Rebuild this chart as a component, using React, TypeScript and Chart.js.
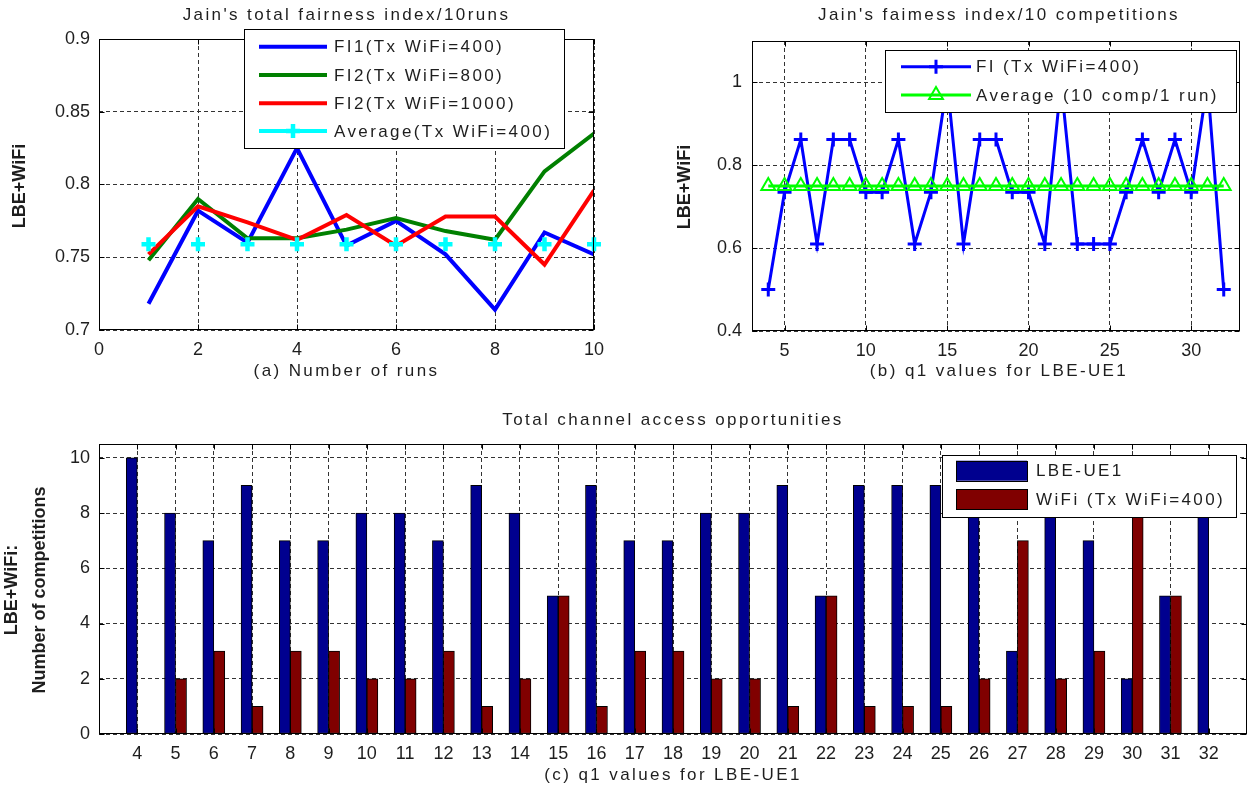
import React, { useEffect, useRef } from "react";
import { Chart, registerables } from "chart.js";

Chart.register(...registerables);

// ---------------- data ----------------
// (a) fairness index over 10 runs
const runs = [1, 2, 3, 4, 5, 6, 7, 8, 9, 10];
const fi1Tx400 = [0.718, 0.782, 0.76, 0.825, 0.758, 0.775, 0.752, 0.714, 0.767, 0.752];
const fi2Tx800 = [0.748, 0.79, 0.763, 0.763, 0.769, 0.777, 0.768, 0.762, 0.809, 0.835];
const fi2Tx1000 = [0.752, 0.785, 0.774, 0.762, 0.779, 0.758, 0.778, 0.778, 0.745, 0.796];
const avgRunsTx400 = [0.759, 0.759, 0.759, 0.759, 0.759, 0.759, 0.759, 0.759, 0.759, 0.759];
const runTicks = [0, 2, 4, 6, 8, 10];
const runTickLabels = ["0", "2", "4", "6", "8", "10"];
const fiRunTicks = [0.7, 0.75, 0.8, 0.85, 0.9];
const fiRunTickLabels = ["0.7", "0.75", "0.8", "0.85", "0.9"];

// (b) fairness index over 10 competitions per q1
const q1Values = [4, 5, 6, 7, 8, 9, 10, 11, 12, 13, 14, 15, 16, 17, 18, 19, 20, 21, 22, 23, 24, 25, 26, 27, 28, 29, 30, 31, 32];
const fiCompTx400 = [0.5, 0.735, 0.862, 0.61, 0.862, 0.862, 0.735, 0.735, 0.862, 0.61, 0.735, 1.0, 0.61, 0.862, 0.862, 0.735, 0.735, 0.61, 1.0, 0.61, 0.61, 0.61, 0.735, 0.862, 0.735, 0.862, 0.735, 1.0, 0.5];
const avgComp = [0.75, 0.75, 0.75, 0.75, 0.75, 0.75, 0.75, 0.75, 0.75, 0.75, 0.75, 0.75, 0.75, 0.75, 0.75, 0.75, 0.75, 0.75, 0.75, 0.75, 0.75, 0.75, 0.75, 0.75, 0.75, 0.75, 0.75, 0.75, 0.75];
const q1Ticks = [5, 10, 15, 20, 25, 30];
const q1TickLabels = ["5", "10", "15", "20", "25", "30"];
const fiCompTicks = [0.4, 0.6, 0.8, 1];
const fiCompTickLabels = ["0.4", "0.6", "0.8", "1"];

// (c) channel access opportunities
const lbeUE1Counts = [10, 8, 7, 9, 7, 7, 8, 8, 7, 9, 8, 5, 9, 7, 7, 8, 8, 9, 5, 9, 9, 9, 8, 3, 8, 7, 2, 5, 10];
const wifiCounts = [0, 2, 3, 1, 3, 3, 2, 2, 3, 1, 2, 5, 1, 3, 3, 2, 2, 1, 5, 1, 1, 1, 2, 7, 2, 3, 8, 5, 0];
const countTicks = [0, 2, 4, 6, 8, 10];
const countTickLabels = ["0", "2", "4", "6", "8", "10"];
const q1BarTickLabels = q1Values.map((v) => String(v));

// texts
const titleA = "Jain's total fairness index/10runs";
const xLabelA = "(a) Number of runs";
const yLabelA = "LBE+WiFi";
const titleB = "Jain's faimess index/10 competitions";
const xLabelB = "(b) q1 values for LBE-UE1";
const yLabelB = "LBE+WiFi";
const titleC = "Total channel access opportunities";
const xLabelC = "(c) q1 values for LBE-UE1";
const yLabelC1 = "LBE+WiFi:";
const yLabelC2 = "Number of competitions";

// ---------------- style ----------------
const FAMILY = '"Liberation Sans", Arial, Helvetica, sans-serif';
const TEXT = "#1e1e1e";
const GRID = "#333333";
const SPACING = "2.4px";

const pts = (xs: number[], ys: number[]) => xs.map((x, i) => ({ x, y: ys[i] }));

function linScale(min: number, max: number, ticks: number[], labels: string[], axis: "x" | "y", size: number, pad: number) {
  return {
    type: "linear",
    position: axis === "x" ? "bottom" : "left",
    min,
    max,
    bounds: "data",
    offset: false,
    afterBuildTicks: (s: any) => {
      s.ticks = ticks.map((v) => ({ value: v }));
    },
    afterFit: (s: any) => {
      if (axis === "x") s.height = size;
      else s.width = size;
      s.paddingLeft = 0;
      s.paddingRight = 0;
      s.paddingTop = 0;
      s.paddingBottom = 0;
    },
    grid: { color: GRID, lineWidth: 1, drawTicks: false, offset: false },
    border: { display: false, dash: [4, 3] },
    ticks: {
      font: { family: FAMILY, size: 18 },
      color: TEXT,
      padding: pad,
      autoSkip: false,
      maxRotation: 0,
      minRotation: 0,
      crossAlign: "near",
      callback: (_v: any, i: number) => labels[i],
    },
  };
}

function drawMarker(ctx: CanvasRenderingContext2D, style: string, x: number, y: number, r: number, bw: number, color: string) {
  ctx.save();
  ctx.strokeStyle = color;
  ctx.lineWidth = bw;
  ctx.beginPath();
  if (style === "cross") {
    ctx.moveTo(x, y - r);
    ctx.lineTo(x, y + r);
    ctx.moveTo(x - r, y);
    ctx.lineTo(x + r, y);
  } else if (style === "triangle") {
    let a = 0;
    ctx.moveTo(x + Math.sin(a) * r, y - Math.cos(a) * r);
    a += (2 * Math.PI) / 3;
    ctx.lineTo(x + Math.sin(a) * r, y - Math.cos(a) * r);
    a += (2 * Math.PI) / 3;
    ctx.lineTo(x + Math.sin(a) * r, y - Math.cos(a) * r);
    ctx.closePath();
  }
  ctx.stroke();
  ctx.restore();
}

type Txt = { text: string; x: number; y: number; rot?: boolean; bold?: boolean; size?: number };
type Leg = { x: number; y: number; w: number; h: number; x0: number; x1: number; tx: number; rows: number[]; kind: "line" | "patch"; patchH?: number };

function decor(texts: Txt[], leg: Leg) {
  return {
    id: "decor",
    beforeDraw(chart: any) {
      chart.ctx.letterSpacing = "0px";
    },
    afterDatasetsDraw(chart: any) {
      const ctx = chart.ctx as CanvasRenderingContext2D;
      const ca = chart.chartArea;
      const L = Math.round(ca.left) + 0.5;
      const R = Math.round(ca.right) - 0.5;
      const T = Math.round(ca.top) + 0.5;
      const B = Math.round(ca.bottom) - 0.5;
      ctx.save();
      ctx.setLineDash([]);
      ctx.strokeStyle = "#000";
      ctx.lineWidth = 1;
      ctx.beginPath();
      const xs = chart.scales.x;
      const ys = chart.scales.y;
      for (const t of xs.ticks) {
        const p = Math.round(xs.getPixelForValue(t.value)) + 0.5;
        ctx.moveTo(p, B);
        ctx.lineTo(p, B - 5);
        ctx.moveTo(p, T);
        ctx.lineTo(p, T + 5);
      }
      for (const t of ys.ticks) {
        const p = Math.round(ys.getPixelForValue(t.value)) + 0.5;
        ctx.moveTo(L, p);
        ctx.lineTo(L + 5, p);
        ctx.moveTo(R, p);
        ctx.lineTo(R - 5, p);
      }
      ctx.stroke();
      ctx.strokeRect(L, T, R - L, B - T);
      ctx.restore();
    },
    afterDraw(chart: any) {
      const ctx = chart.ctx as CanvasRenderingContext2D;
      ctx.save();
      ctx.setLineDash([]);
      // legend
      ctx.fillStyle = "#fff";
      ctx.fillRect(leg.x, leg.y, leg.w, leg.h);
      ctx.strokeStyle = "#000";
      ctx.lineWidth = 1;
      ctx.strokeRect(leg.x + 0.5, leg.y + 0.5, leg.w, leg.h);
      chart.data.datasets.forEach((ds: any, i: number) => {
        const ry = leg.rows[i];
        if (leg.kind === "patch") {
          const ph = leg.patchH || 20;
          ctx.fillStyle = ds.backgroundColor;
          ctx.fillRect(leg.x0, ry - ph / 2, leg.x1 - leg.x0, ph);
          ctx.strokeStyle = "#000";
          ctx.lineWidth = 1;
          ctx.strokeRect(leg.x0 + 0.5, Math.round(ry - ph / 2) + 0.5, leg.x1 - leg.x0, ph);
        } else {
          ctx.strokeStyle = ds.borderColor;
          ctx.lineWidth = ds.borderWidth;
          ctx.beginPath();
          ctx.moveTo(leg.x0, ry);
          ctx.lineTo(leg.x1, ry);
          ctx.stroke();
          if (ds.pointRadius > 0) {
            drawMarker(ctx, ds.pointStyle, (leg.x0 + leg.x1) / 2, ry, ds.pointRadius, ds.pointBorderWidth, ds.pointBorderColor || ds.borderColor);
          }
        }
        (ctx as any).letterSpacing = SPACING;
        ctx.font = `17px ${FAMILY}`;
        ctx.fillStyle = TEXT;
        ctx.textAlign = "left";
        ctx.textBaseline = "middle";
        ctx.fillText(ds.label, leg.tx, ry + 1);
      });
      // texts
      for (const t of texts) {
        ctx.save();
        ctx.fillStyle = TEXT;
        ctx.textAlign = "center";
        ctx.textBaseline = "middle";
        if (t.bold) {
          (ctx as any).letterSpacing = "0px";
          ctx.font = `bold ${t.size || 18}px ${FAMILY}`;
        } else {
          (ctx as any).letterSpacing = SPACING;
          ctx.font = `${t.size || 17}px ${FAMILY}`;
        }
        ctx.translate(t.x, t.y);
        if (t.rot) ctx.rotate(-Math.PI / 2);
        ctx.fillText(t.text, 0, 0);
        ctx.restore();
      }
      (ctx as any).letterSpacing = "0px";
      ctx.restore();
    },
  };
}

// ---------------- configs ----------------
function configA(): any {
  return {
    type: "line",
    data: {
      datasets: [
        { label: "FI1(Tx WiFi=400)", data: pts(runs, fi1Tx400), borderColor: "#0000ff", borderWidth: 4, pointRadius: 0, order: 4 },
        { label: "FI2(Tx WiFi=800)", data: pts(runs, fi2Tx800), borderColor: "#008000", borderWidth: 4, pointRadius: 0, order: 3 },
        { label: "FI2(Tx WiFi=1000)", data: pts(runs, fi2Tx1000), borderColor: "#ff0000", borderWidth: 4, pointRadius: 0, order: 2 },
        {
          label: "Average(Tx WiFi=400)",
          data: pts(runs, avgRunsTx400),
          showLine: false,
          borderColor: "#00ffff",
          borderWidth: 4,
          pointStyle: "cross",
          pointRadius: 7,
          pointBorderWidth: 4.5,
          pointBorderColor: "#00ffff",
          clip: false,
          order: 1,
        },
      ],
    },
    options: {
      animation: false,
      responsive: false,
      devicePixelRatio: 1,
      layout: { padding: { left: 0, top: 39, right: 31, bottom: 0 } },
      plugins: { legend: { display: false }, tooltip: { enabled: false } },
      scales: {
        x: linScale(0, 10, runTicks, runTickLabels, "x", 60, 9),
        y: linScale(0.7, 0.9, fiRunTicks, fiRunTickLabels, "y", 99, 9),
      },
    },
    plugins: [
      decor(
        [
          { text: titleA, x: 346.5, y: 15 },
          { text: xLabelA, x: 346.5, y: 371 },
          { text: yLabelA, x: 20, y: 186, rot: true, bold: true },
        ],
        { x: 244, y: 29, w: 320, h: 119, x0: 259, x1: 327, tx: 334, rows: [46.7, 75, 103.3, 131], kind: "line" }
      ),
    ],
  };
}

function configB(): any {
  return {
    type: "line",
    data: {
      datasets: [
        {
          label: "FI (Tx WiFi=400)",
          data: pts(q1Values, fiCompTx400),
          borderColor: "#0000ff",
          borderWidth: 3,
          pointStyle: "cross",
          pointRadius: 7,
          pointBorderWidth: 3,
          pointBorderColor: "#0000ff",
          clip: false,
          order: 2,
        },
        {
          label: "Average (10 comp/1 run)",
          data: pts(q1Values, avgComp),
          borderColor: "#00ff00",
          borderWidth: 3,
          pointStyle: "triangle",
          pointRadius: 8,
          pointBorderWidth: 2,
          pointBorderColor: "#00ff00",
          pointBackgroundColor: "rgba(0,0,0,0)",
          clip: false,
          order: 1,
        },
      ],
    },
    options: {
      animation: false,
      responsive: false,
      devicePixelRatio: 1,
      layout: { padding: { left: 0, top: 41, right: 4, bottom: 0 } },
      plugins: { legend: { display: false }, tooltip: { enabled: false } },
      scales: {
        x: linScale(3, 33, q1Ticks, q1TickLabels, "x", 59, 9),
        y: linScale(0.4, 1.1, fiCompTicks, fiCompTickLabels, "y", 127, 10),
      },
    },
    plugins: [
      decor(
        [
          { text: titleB, x: 374, y: 15 },
          { text: xLabelB, x: 374, y: 371 },
          { text: yLabelB, x: 60, y: 187, rot: true, bold: true },
        ],
        { x: 260, y: 50, w: 351, h: 62, x0: 276, x1: 346, tx: 351, rows: [66.7, 95], kind: "line" }
      ),
    ],
  };
}

function configC(): any {
  return {
    type: "bar",
    data: {
      datasets: [
        {
          label: "LBE-UE1",
          data: pts(q1Values, lbeUE1Counts),
          backgroundColor: "#00008f",
          borderColor: "#000000",
          borderWidth: 1,
          borderSkipped: false,
          barThickness: 11,
        },
        {
          label: "WiFi (Tx WiFi=400)",
          data: pts(q1Values, wifiCounts),
          backgroundColor: "#800000",
          borderColor: "#000000",
          borderWidth: 1,
          borderSkipped: false,
          barThickness: 11,
        },
      ],
    },
    options: {
      animation: false,
      responsive: false,
      devicePixelRatio: 1,
      layout: { padding: { left: 0, top: 54, right: 3, bottom: 0 } },
      plugins: { legend: { display: false }, tooltip: { enabled: false } },
      scales: {
        x: linScale(3, 33, q1Values, q1BarTickLabels, "x", 54, 9),
        y: linScale(0, 10.5, countTicks, countTickLabels, "y", 99, 9),
      },
    },
    plugins: [
      decor(
        [
          { text: titleC, x: 673, y: 30 },
          { text: xLabelC, x: 673, y: 385 },
          { text: yLabelC1, x: 12, y: 200, rot: true, bold: true },
          { text: yLabelC2, x: 40, y: 200, rot: true, bold: true },
        ],
        { x: 942, y: 65, w: 294, h: 62, x0: 956, x1: 1027, tx: 1036, rows: [80.7, 109], kind: "patch", patchH: 20 }
      ),
    ],
  };
}

function ChartBox(props: { make: () => any; left: number; top: number; width: number; height: number }) {
  const ref = useRef<HTMLCanvasElement>(null);
  useEffect(() => {
    const chart = new Chart(ref.current as HTMLCanvasElement, props.make());
    return () => chart.destroy();
  }, []);
  return (
    <canvas
      ref={ref}
      width={props.width}
      height={props.height}
      style={{ position: "absolute", left: props.left, top: props.top, width: props.width, height: props.height }}
    />
  );
}

export default function App() {
  useEffect(() => {
    document.body.style.margin = "0";
    document.body.style.overflow = "hidden";
  }, []);
  return (
    <div style={{ position: "absolute", left: 0, top: 0, width: 1250, height: 788, background: "#fff", overflow: "hidden" }}>
      <ChartBox make={configA} left={0} top={0} width={625} height={390} />
      <ChartBox make={configB} left={625} top={0} width={625} height={390} />
      <ChartBox make={configC} left={0} top={390} width={1250} height={398} />
    </div>
  );
}
